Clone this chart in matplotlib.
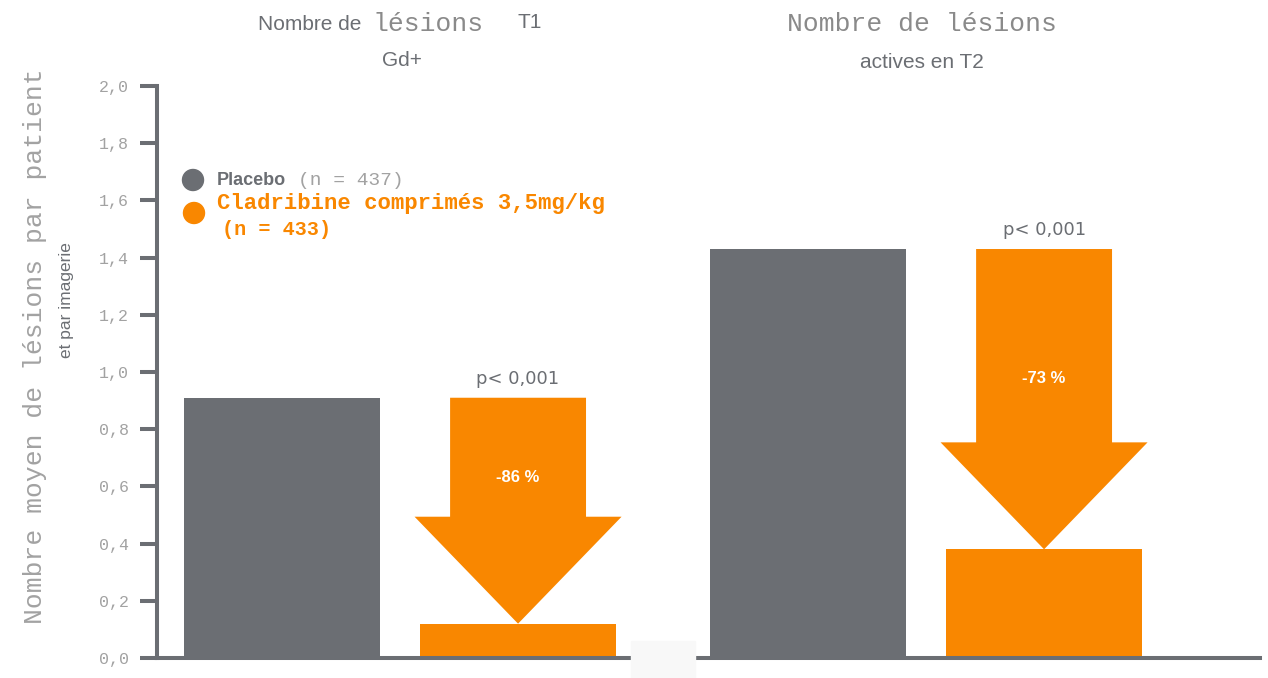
import numpy as np
import matplotlib.pyplot as plt
from matplotlib.patches import Polygon, Rectangle, Ellipse

# valeurs moyennes par patient et par imagerie
groups = ['T1 Gd+', 'T2 actives']
placebo = [0.91, 1.43]
cladribine = [0.12, 0.38]
reductions = ['-86 %', '-73 %']
pvalues = ['p< 0,001', 'p< 0,001']
yticks = [0.0, 0.2, 0.4, 0.6, 0.8, 1.0, 1.2, 1.4, 1.6, 1.8, 2.0]
ytick_labels = ['0,0', '0,2', '0,4', '0,6', '0,8', '1,0', '1,2', '1,4', '1,6', '1,8', '2,0']

GREY = '#6b6e73'
ORANGE = '#f98700'
LIGHT = '#a2a2a2'
MONO = ['Liberation Mono', 'DejaVu Sans Mono']
SANS = ['Liberation Sans', 'DejaVu Sans']

W, H = 1268, 678
fig = plt.figure(figsize=(W / 100, H / 100), dpi=100)
ax = fig.add_axes([157 / W, 1 - 658 / H, (1260 - 157) / W, (658 - 86) / H])

def px(x, y):
    return x / W, 1 - y / H

x_plac = np.array([0.0, 2.229])
x_clad = x_plac + 1.0
width = 0.83

ax.bar(x_plac, placebo, width=width, color=GREY, zorder=2)
ax.bar(x_clad, cladribine, width=width, color=ORANGE, zorder=2)

# fleches de reduction, du niveau placebo jusqu'au niveau cladribine
shaft = 0.288
head = 0.4386
head_len = 0.374
for xc, top, bottom, red, pv in zip(x_clad, placebo, cladribine, reductions, pvalues):
    base = bottom + head_len
    pts = [(xc - shaft, top), (xc + shaft, top), (xc + shaft, base),
           (xc + head, base), (xc, bottom), (xc - head, base), (xc - shaft, base)]
    ax.add_patch(Polygon(pts, closed=True, color=ORANGE, lw=0, zorder=3))
    ax.text(xc, top + 0.035, pv, ha='center', va='bottom', color=GREY,
            fontsize=13, family=['DejaVu Sans'])
    ax.text(xc, top - 0.67 * (top - base), red, ha='center', va='center',
            color='white', fontsize=12, family=SANS, fontweight='bold')

ax.set_xlim(-0.53, 4.144)
ax.set_ylim(0, 2.0)
ax.set_yticks(yticks)
ax.set_yticklabels(ytick_labels, family=MONO, color=LIGHT, fontsize=12)
ax.set_xticks([])
for s in ['top', 'right']:
    ax.spines[s].set_visible(False)
for s in ['left', 'bottom']:
    ax.spines[s].set_color(GREY)
    ax.spines[s].set_linewidth(2.9)
ax.tick_params(axis='y', length=12, width=2.9, color=GREY, pad=8)
ax.patch.set_alpha(0)

# titres des groupes
fig.text(*px(258, 24), 'Nombre de', ha='left', va='center', color=GREY,
         fontsize=15, family=SANS)
fig.text(*px(372, 24), 'lésions', ha='left', va='center', color='#8a8a8a',
         fontsize=19, family=MONO)
fig.text(*px(518, 22), 'T1', ha='left', va='center', color=GREY,
         fontsize=15, family=SANS)
fig.text(*px(402, 60), 'Gd+', ha='center', va='center', color=GREY,
         fontsize=15, family=SANS)
fig.text(*px(922, 24), 'Nombre de lésions', ha='center', va='center', color='#8a8a8a',
         fontsize=19, family=MONO)
fig.text(*px(922, 62), 'actives en T2', ha='center', va='center', color=GREY,
         fontsize=15, family=SANS)

# titre de l'axe y
fig.text(*px(35, 346), 'Nombre moyen de lésions par patient', rotation=90,
         ha='center', va='center', color=LIGHT, fontsize=19, family=MONO)
fig.text(*px(66, 300), 'et par imagerie', rotation=90,
         ha='center', va='center', color=GREY, fontsize=12.5, family=SANS)

# legende
fig.patches.append(Ellipse(px(193, 180), 21 / W, 21 / H, transform=fig.transFigure,
                           color=GREY, figure=fig))
fig.patches.append(Ellipse(px(194, 213), 21 / W, 21 / H, transform=fig.transFigure,
                           color=ORANGE, figure=fig))
fig.text(*px(217, 181), 'Placebo', ha='left', va='center', color=GREY,
         fontsize=13, family=SANS, fontweight='bold')
fig.text(*px(298, 181), '(n = 437)', ha='left', va='center', color=LIGHT,
         fontsize=14, family=MONO)
fig.text(*px(217, 204), 'Cladribine comprimés 3,5mg/kg', ha='left', va='center',
         color=ORANGE, fontsize=16, family=MONO, fontweight='bold')
fig.text(*px(222, 229), '(n = 433)', ha='left', va='center',
         color=ORANGE, fontsize=14.5, family=MONO, fontweight='bold')

# petit cache clair sur l'axe
fig.patches.append(Rectangle(px(631, 678), 64 / W, 37 / H, transform=fig.transFigure,
                             color='#f8f8f8', zorder=10, figure=fig))

fig.savefig('out.png', dpi=100)
